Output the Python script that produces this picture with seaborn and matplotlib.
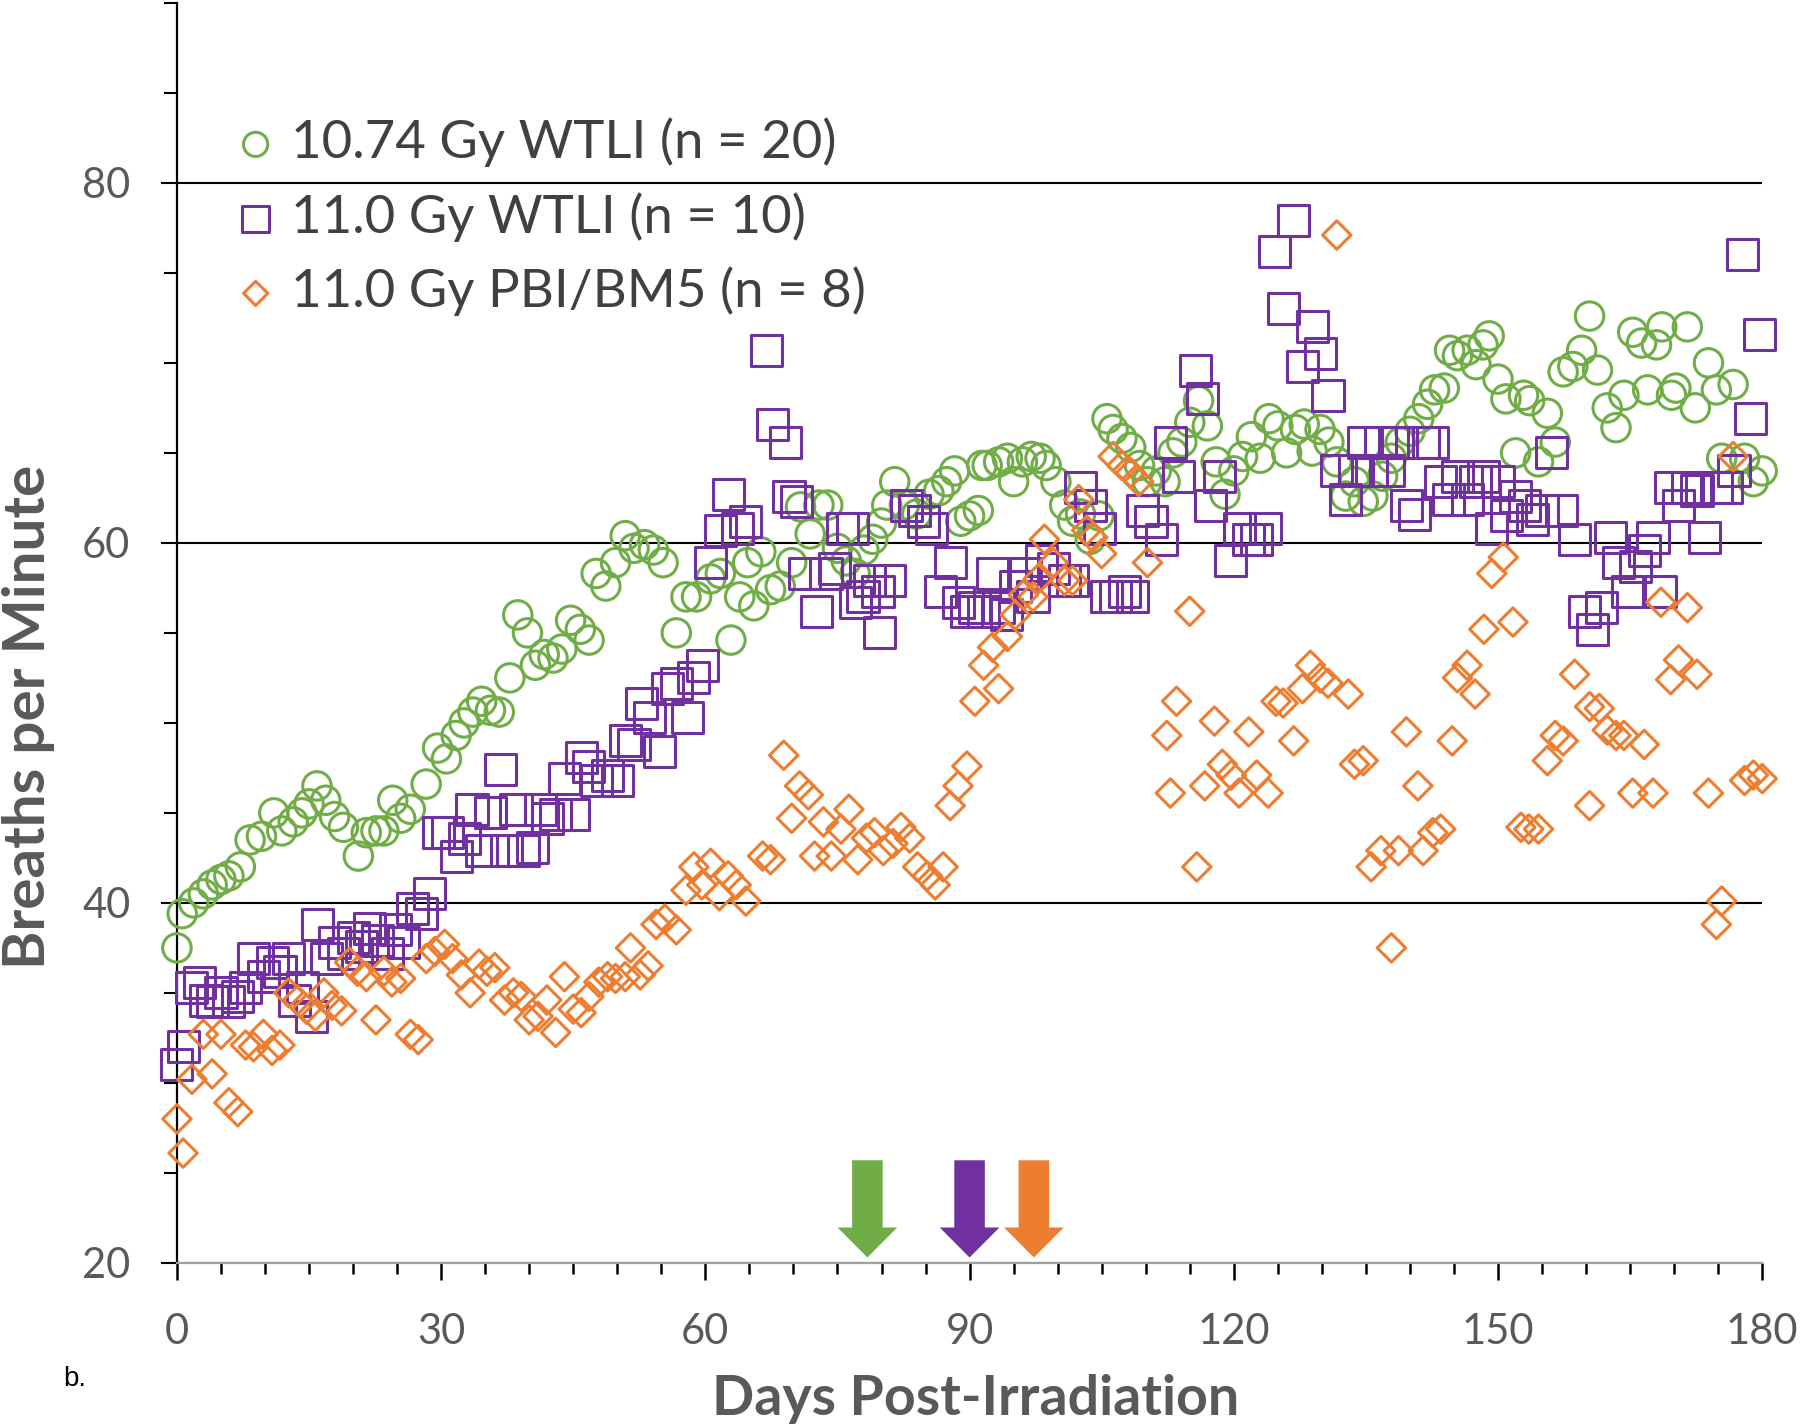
import matplotlib
matplotlib.use("Agg")
import seaborn as sns
import matplotlib.pyplot as plt
from matplotlib.ticker import MultipleLocator

# %%
# values (day, breaths per minute)
green_day = [0, 0.6, 1.9, 3.0, 4.0, 5.0, 5.9, 7.2, 8.3, 9.6, 11.0, 11.9, 13.2, 14.2, 15.0,
             15.9, 16.9, 17.9, 18.9, 20.6, 21.5, 22.6, 23.5, 24.5, 25.4, 26.5, 28.3, 29.6,
             30.6, 31.7, 32.6, 33.6, 34.6, 35.6, 36.6, 37.8, 38.7, 39.8, 40.7, 41.7, 42.7,
             43.7, 44.7, 45.8, 46.8, 47.6, 48.7, 49.8, 50.9, 51.9, 53.1, 54.1, 55.2, 56.7,
             57.8, 59.0, 60.6, 61.7, 62.9, 63.9, 64.8, 65.5, 66.3, 67.4, 68.5, 69.8, 70.8,
             71.9, 72.9, 73.9, 75.0, 76.0, 77.0, 78.0, 79.0, 80.0, 80.6, 81.5, 82.6, 84.0,
             85.4, 86.5, 87.4, 88.3, 89.0, 90.0, 91.0, 91.4, 92.0, 93.3, 94.3, 95.0, 96.0,
             97.0, 98.0, 98.7, 99.8, 100.8, 101.7, 102.6, 103.7, 104.7, 105.6, 106.3, 107.3,
             108.3, 109.3, 110.2, 111.2, 112.2, 113.1, 114.1, 115.0, 116.0, 117.0, 118.0,
             119.0, 120.0, 121.0, 122.0, 123.0, 124.0, 125.0, 126.0, 127.0, 128.0, 128.9,
             129.8, 130.8, 131.7, 132.7, 133.7, 134.7, 135.8, 136.9, 137.9, 138.9, 140.0,
             141.0, 142.0, 142.8, 143.9, 144.5, 145.4, 146.5, 147.5, 148.3, 149.0, 150.0,
             150.9, 152.0, 152.9, 153.6, 154.6, 155.6, 156.5, 157.4, 158.5, 159.5, 160.4,
             161.3, 162.4, 163.4, 164.3, 165.3, 166.3, 167.0, 168.0, 168.6, 169.7, 170.2,
             171.5, 172.4, 173.9, 174.8, 175.4, 176.7, 178.0, 179.0, 180.0]
green_bpm = [37.5, 39.4, 40.0, 40.5, 41.0, 41.3, 41.5, 42.0, 43.5, 43.7, 45.0, 44.0, 44.5, 45.0, 45.5,
             46.5, 45.7, 44.8, 44.2, 42.6, 43.9, 44.0, 44.0, 45.7, 44.7, 45.2, 46.6, 48.6,
             48.0, 49.3, 50.0, 50.6, 51.2, 50.7, 50.6, 52.5, 56.0, 55.0, 53.2, 53.8, 53.6,
             54.1, 55.7, 55.2, 54.6, 58.3, 57.6, 58.9, 60.4, 59.7, 59.9, 59.6, 58.9, 55.0,
             57.0, 57.0, 58.0, 58.3, 54.6, 57.0, 58.9, 56.5, 59.5, 57.4, 57.6, 58.9, 62.0,
             60.5, 62.1, 62.1, 59.7, 59.0, 58.3, 59.6, 60.2, 61.1, 62.1, 63.4, 62.1, 61.6,
             62.7, 62.9, 63.4, 64.0, 61.2, 61.5, 61.8, 64.3, 64.3, 64.5, 64.7, 63.4, 64.5,
             64.8, 64.7, 64.3, 63.4, 62.1, 61.2, 61.6, 60.2, 61.5, 66.9, 66.3, 65.8,
             65.3, 64.3, 63.4, 64.0, 63.4, 65.0, 65.6, 66.7, 67.9, 66.5, 64.5,
             62.7, 64.0, 64.8, 65.9, 64.7, 66.9, 66.5, 65.0, 66.3, 66.6, 65.1,
             66.3, 65.6, 64.5, 62.6, 63.4, 62.3, 62.6, 63.7, 64.7, 65.6, 66.2,
             66.9, 67.7, 68.5, 68.6, 70.7, 70.4, 70.7, 69.9, 71.0, 71.5, 69.1,
             68.0, 65.0, 68.2, 67.9, 64.5, 67.2, 65.6, 69.5, 69.8, 70.7, 72.6,
             69.6, 67.5, 66.4, 68.2, 71.7, 71.1, 68.5, 71.0, 72.0, 68.2, 68.6,
             72.0, 67.5, 70.0, 68.5, 64.7, 68.8, 64.7, 63.4, 64.0]

purple_day = [0, 0.7, 1.7, 2.6, 3.3, 4.0, 5.0, 5.9, 6.9, 7.8, 8.7, 9.8, 10.8, 11.7, 12.7, 13.4,
              14.3, 15.3, 16.0, 17.0, 17.9, 18.9, 20.0, 21.0, 21.9, 22.8, 23.9, 24.8, 25.7,
              26.7, 27.8, 28.7, 29.7, 30.7, 31.7, 32.6, 33.5, 34.6, 35.6, 36.7, 37.4, 38.5,
              39.4, 40.4, 41.3, 42.1, 43.0, 44.0, 45.0, 45.9, 46.7, 47.6, 48.9, 50.0, 50.9,
              51.9, 52.8, 53.7, 54.8, 55.7, 56.7, 58.0, 58.7, 59.7, 60.6, 61.7, 62.6, 63.7,
              64.6, 66.9, 67.6, 69.1, 69.5, 70.4, 71.3, 72.6, 73.7, 74.7, 75.6, 76.7, 77.0,
              77.9, 78.6, 79.6, 79.8, 80.9, 82.8, 83.7, 84.8, 85.7, 86.7, 87.8, 88.7, 89.6,
              90.6, 91.6, 92.6, 93.3, 94.2, 95.2, 96.3, 97.2, 98.2, 99.5, 100.8, 101.7, 102.6,
              103.7, 104.7, 105.5, 106.6, 107.6, 108.5, 109.6, 110.6, 111.8, 112.8, 113.7,
              115.7, 116.5, 117.4, 118.4, 119.6, 120.6, 121.7, 122.6, 123.6, 124.6, 125.6,
              126.8, 127.8, 128.9, 129.8, 130.7, 131.7, 132.7, 133.7, 134.7, 135.6, 136.7,
              137.6, 138.6, 139.6, 140.5, 141.5, 142.6, 143.5, 144.4, 145.4, 146.5, 147.4,
              148.4, 149.3, 150.0, 151.0, 152.0, 153.0, 153.9, 155.0, 156.1, 157.2, 158.7,
              159.8, 160.7, 161.7, 162.8, 163.7, 164.7, 165.6, 166.6, 167.6, 168.5, 169.6,
              170.5, 171.5, 172.6, 173.5, 174.8, 175.9, 176.8, 177.8, 178.7, 179.7]
purple_bpm = [31.0, 32.0, 35.3, 35.6, 34.6, 34.5, 35.0, 34.5, 34.8, 35.3, 36.9, 35.9, 36.7, 36.2, 36.9, 34.6,
              35.3, 33.7, 38.8, 36.9, 37.8, 37.2, 38.1, 37.6, 38.6, 37.9, 37.2, 38.5, 37.8,
              39.7, 39.4, 40.5, 43.9, 43.9, 42.6, 43.6, 45.2, 42.9, 45.0, 47.4, 42.9, 45.2,
              42.9, 43.1, 45.2, 44.7, 44.9, 46.9, 44.9, 48.1, 47.6, 46.8, 47.1, 46.8, 49.0,
              48.8, 51.1, 50.3, 48.4, 51.9, 52.2, 50.3, 52.5, 53.2, 58.9, 60.7, 62.7, 60.8,
              61.2, 70.7, 66.6, 65.6, 62.6, 62.3, 58.3, 56.2, 58.3, 58.6, 60.8, 60.8, 56.7,
              57.0, 57.9, 57.3, 55.0, 57.9, 62.1, 61.8, 61.2, 60.8, 57.3, 58.9, 56.7, 56.2,
              56.4, 56.2, 58.3, 56.4, 56.0, 57.6, 58.3, 57.0, 59.0, 58.6, 57.9, 57.9, 63.1,
              62.1, 60.8, 57.0, 57.0, 57.3, 57.0, 61.8, 61.2, 60.2, 65.6, 63.7,
              69.6, 68.0, 62.1, 63.7, 59.0, 60.8, 60.2, 60.2, 60.8, 76.2, 73.0,
              77.9, 69.8, 72.0, 70.5, 68.2, 64.0, 62.4, 64.0, 65.6, 64.0, 65.6,
              64.0, 65.6, 62.1, 61.6, 65.6, 65.6, 63.4, 62.4, 63.7, 62.4, 63.4,
              63.7, 60.8, 63.4, 61.5, 62.6, 62.1, 61.3, 61.8, 65.0, 61.8, 60.2,
              56.2, 55.2, 56.4, 60.3, 58.9, 57.3, 58.7, 59.6, 60.3, 57.3, 63.1,
              62.1, 63.1, 62.9, 60.3, 63.1, 63.1, 64.0, 76.0, 66.9, 71.6]

orange_day = [0, 0.7, 1.7, 3.0, 4.0, 5.0, 5.9, 6.9, 7.8, 8.7, 9.8, 10.8, 11.7, 12.7, 13.7, 14.7,
              15.7, 16.7, 17.6, 18.7, 19.6, 20.5, 21.5, 22.6, 23.5, 24.4, 25.4, 26.5, 27.4,
              28.3, 29.3, 30.4, 31.3, 32.3, 33.3, 34.3, 35.2, 36.1, 37.2, 38.2, 39.1, 40.0,
              41.0, 42.0, 43.0, 44.0, 45.0, 45.9, 46.8, 47.9, 48.9, 49.8, 50.9, 51.5, 52.6,
              53.5, 54.4, 55.4, 56.7, 57.8, 58.7, 59.6, 60.6, 61.6, 62.6, 63.5, 64.6, 66.5,
              67.4, 68.9, 69.8, 70.7, 71.7, 72.4, 73.4, 74.3, 75.4, 76.3, 77.3, 78.3, 79.2,
              80.2, 81.3, 82.2, 83.2, 84.1, 85.2, 86.1, 87.0, 87.8, 88.7, 89.7, 90.6, 91.6,
              92.6, 93.3, 94.3, 95.2, 96.1, 97.2, 97.8, 98.5, 99.5, 100.8, 101.7, 102.4,
              103.3, 104.0, 105.0, 106.3, 107.3, 108.3, 109.2, 110.2, 112.4, 112.8, 113.5,
              115.0, 115.8, 116.7, 117.8, 118.7, 119.7, 120.6, 121.7, 122.6, 123.9, 124.8,
              125.6, 126.8, 127.8, 128.7, 129.8, 130.7, 131.7, 133.0, 133.7, 134.7, 135.6,
              136.7, 137.9, 138.7, 139.6, 140.9, 141.5, 142.6, 143.5, 144.8, 145.4, 146.5,
              147.4, 148.4, 149.3, 150.6, 151.7, 152.6, 153.5, 154.6, 155.6, 156.5, 157.4,
              158.7, 160.4, 160.4, 161.5, 162.4, 163.4, 164.3, 165.3, 166.6, 167.6, 168.5,
              169.6, 170.5, 171.5, 172.6, 173.9, 174.8, 175.4, 176.7, 178.0, 179.0, 180.0]
orange_bpm = [28.0, 26.1, 30.2, 32.7, 30.5, 32.7, 28.9, 28.4, 32.1, 32.0, 32.7, 31.8, 32.1, 35.0, 34.6, 34.1,
              33.7, 35.0, 34.3, 34.0, 36.7, 36.2, 35.9, 33.5, 36.2, 35.6, 35.8, 32.7, 32.4,
              36.9, 37.3, 37.7, 36.9, 36.0, 35.0, 36.6, 36.2, 36.4, 34.6, 35.0, 34.8, 33.5,
              33.7, 34.6, 32.8, 35.9, 34.1, 33.9, 34.8, 35.6, 35.9, 35.8, 35.9, 37.5, 36.0,
              36.5, 38.8, 39.1, 38.5, 40.7, 42.0, 41.0, 42.2, 40.4, 41.5, 41.0, 40.1, 42.6,
              42.4, 48.2, 44.7, 46.5, 46.0, 42.6, 44.5, 42.6, 44.1, 45.2, 42.4, 43.6, 43.9,
              42.9, 43.3, 44.2, 43.6, 42.0, 41.5, 41.0, 42.0, 45.4, 46.5, 47.6, 51.2, 53.2,
              54.2, 51.9, 54.8, 56.0, 57.1, 57.0, 58.0, 60.2, 58.9, 57.9, 57.9, 62.4,
              60.7, 60.3, 59.4, 64.8, 64.3, 63.9, 63.4, 58.9, 49.3, 46.1, 51.2,
              56.2, 42.0, 46.5, 50.1, 47.7, 47.1, 46.1, 49.5, 47.1, 46.1, 51.2,
              51.1, 49.0, 51.9, 53.2, 52.5, 52.2, 77.1, 51.6, 47.7, 47.9, 42.0,
              42.9, 37.5, 42.9, 49.5, 46.5, 42.9, 43.9, 44.1, 49.0, 52.5, 53.2,
              51.6, 55.2, 58.3, 59.2, 55.6, 44.2, 44.1, 44.1, 47.9, 49.3, 49.0,
              52.7, 50.9, 45.4, 50.8, 49.6, 49.3, 49.3, 46.1, 48.8, 46.1, 56.7,
              52.4, 53.5, 56.4, 52.7, 46.1, 38.8, 40.1, 64.8, 46.8, 47.1, 46.9]

# day markers (arrows) and their vertical extent
arrow_day = [78.4, 90.0, 97.3]
arrow_top = 25.7
arrow_tip = 20.3

labels = ["10.74 Gy WTLI (n = 20)", "11.0 Gy WTLI (n = 10)", "11.0 Gy PBI/BM5 (n = 8)"]
colors = ["#70AD47", "#7030A0", "#ED7D31"]
markers = ["o", "s", "D"]
sizes = [420, 500, 210]

# %%
sns.set_style("white")
plt.rcParams['font.family'] = ['Lato', 'DejaVu Sans']

fig = plt.figure(figsize=(18, 14.27), dpi=100)
ax = fig.add_axes([0.0983, 0.115, 0.979 - 0.0983, 0.998 - 0.115])

series = [(green_day, green_bpm), (purple_day, purple_bpm), (orange_day, orange_bpm)]
for (xs, ys), lab, c, m, s in zip(series, labels, colors, markers, sizes):
    sns.scatterplot(x=xs, y=ys, ax=ax, marker=m, s=s,
                    facecolor="none", edgecolor=c, linewidth=2.2,
                    label=lab, clip_on=False, zorder=3)

for d, c in zip(arrow_day, colors):
    ax.annotate("", xy=(d, arrow_tip), xytext=(d, arrow_top),
                arrowprops=dict(arrowstyle="simple,head_length=21.6,head_width=43,tail_width=22",
                                mutation_scale=1, color=c, shrinkA=0, shrinkB=0, lw=0),
                zorder=4)

ax.set_xlim(0, 180)
ax.set_ylim(20, 90)
ax.xaxis.set_major_locator(MultipleLocator(30))
ax.xaxis.set_minor_locator(MultipleLocator(5))
ax.yaxis.set_major_locator(MultipleLocator(20))
ax.yaxis.set_minor_locator(MultipleLocator(5))

ax.yaxis.grid(True, which='major', color='black', linewidth=1.5)
ax.set_axisbelow(True)

for side in ['top', 'right']:
    ax.spines[side].set_visible(False)
ax.spines['left'].set_color('black')
ax.spines['left'].set_linewidth(1.6)
ax.spines['bottom'].set_color('#A0A0A0')
ax.spines['bottom'].set_linewidth(1.6)

ax.tick_params(axis='y', which='major', direction='out', length=11.5, width=1.5,
               color='black', labelsize=30, labelcolor='#595959', pad=22)
ax.tick_params(axis='y', which='minor', direction='out', length=9.4, width=1.5, color='black')
ax.tick_params(axis='x', which='major', direction='out', length=12, width=1.8,
               color='black', labelsize=30, labelcolor='#595959', pad=24)
ax.tick_params(axis='x', which='minor', direction='out', length=8, width=1.8, color='black')
ax.tick_params(left=True, bottom=True, which='both')

ax.set_xlabel('')
ax.set_ylabel('')
fig.text(0.542, 0.0085, "Days Post-Irradiation", ha='center', va='baseline',
         fontsize=40, fontweight='bold', color='#595959')
fig.text(0.016, 0.4975, "Breaths per Minute", ha='center', va='center', rotation=90,
         fontsize=42, fontweight='bold', color='#595959')
fig.text(0.035, 0.029, "b.", ha='left', va='baseline', fontsize=20,
         family=['Liberation Sans', 'DejaVu Sans'], color='black')

leg = ax.legend(loc='upper left', bbox_to_anchor=(0.033, 0.909), frameon=False,
                fontsize=38, borderaxespad=0, borderpad=0, handlelength=1.0,
                handletextpad=0.17, labelspacing=0.47, markerscale=0.85)
for t in leg.get_texts():
    t.set_color('#404040')

plt.savefig("out.png", dpi=100)
